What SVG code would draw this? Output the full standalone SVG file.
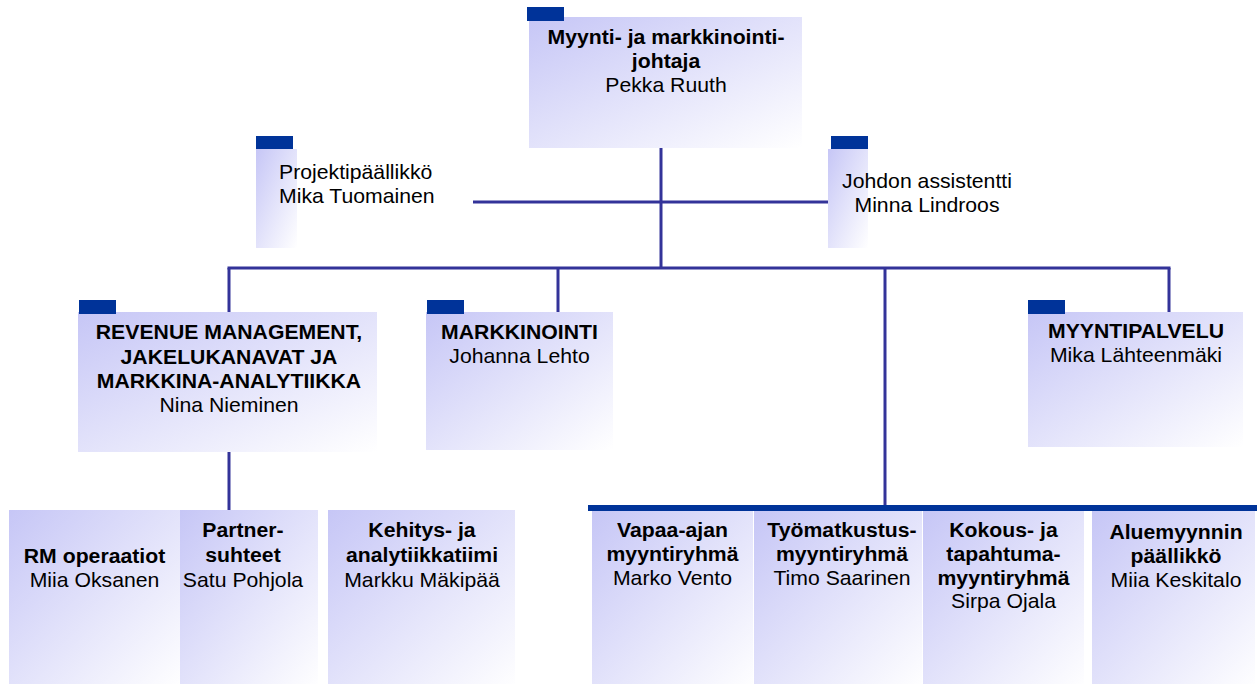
<svg xmlns="http://www.w3.org/2000/svg" width="1260" height="684" viewBox="0 0 1260 684">
<defs>
<linearGradient id="fill" x1="0" y1="0" x2="1" y2="1">
<stop offset="0" stop-color="#c6c6f6"/>
<stop offset="1" stop-color="#ffffff"/>
</linearGradient>
</defs>
<style>
.box{fill:url(#fill);}
.tab{fill:#003399;}
.ln{stroke:#333399;stroke-width:3;fill:none;}
text{font-family:"Liberation Sans",Arial,sans-serif;font-size:20.5px;fill:#000;text-anchor:middle;}
.b{font-weight:bold;}
.l{text-anchor:start;}
</style>
<rect width="1260" height="684" fill="#ffffff"/>
<g id="connectors">
<line class="ln" x1="661" y1="148" x2="661" y2="268"/>
<line class="ln" x1="473" y1="202" x2="830" y2="202"/>
<line class="ln" x1="227.5" y1="268" x2="1170.5" y2="268"/>
<line class="ln" x1="229" y1="268" x2="229" y2="312"/>
<line class="ln" x1="558" y1="268" x2="558" y2="312"/>
<line class="ln" x1="1169" y1="268" x2="1169" y2="312"/>
<line class="ln" x1="885" y1="268" x2="885" y2="506"/>
<line class="ln" x1="229" y1="452" x2="229" y2="511"/>
<rect x="588" y="505" width="669" height="6" fill="#003399"/>
</g>
<g id="n-top">
<rect class="box" x="529" y="17" width="273" height="131"/>
<rect class="tab" x="527" y="7" width="37" height="14"/>
<text transform="translate(666,0) scale(1.035,1)"><tspan class="b" x="0" y="44">Myynti- ja markkinointi-</tspan><tspan class="b" x="0" y="68">johtaja</tspan><tspan x="0" y="92">Pekka Ruuth</tspan></text>
</g>
<g id="n-proj">
<rect class="box" x="256" y="149" width="41" height="99"/>
<rect class="tab" x="256" y="136" width="37" height="13"/>
<text class="l" transform="translate(279,0) scale(1.035,1)"><tspan x="0" y="179">Projektipäällikkö</tspan><tspan x="0" y="203">Mika Tuomainen</tspan></text>
</g>
<g id="n-assist">
<rect class="box" x="828" y="149" width="40" height="99"/>
<rect class="tab" x="831" y="136" width="37" height="13"/>
<text transform="translate(927,0) scale(1.035,1)"><tspan x="0" y="188">Johdon assistentti</tspan><tspan x="0" y="212">Minna Lindroos</tspan></text>
</g>
<g id="n-revenue">
<rect class="box" x="78" y="312" width="299" height="140"/>
<rect class="tab" x="79" y="300" width="37" height="14"/>
<text transform="translate(229,0) scale(1.035,1)"><tspan class="b" x="0" y="339">REVENUE MANAGEMENT,</tspan><tspan class="b" x="0" y="364">JAKELUKANAVAT JA</tspan><tspan class="b" x="0" y="388">MARKKINA-ANALYTIIKKA</tspan><tspan x="0" y="412">Nina Nieminen</tspan></text>
</g>
<g id="n-markkinointi">
<rect class="box" x="426" y="312" width="187" height="138"/>
<rect class="tab" x="427" y="300" width="37" height="14"/>
<text transform="translate(519.5,0) scale(1.035,1)"><tspan class="b" x="0" y="339">MARKKINOINTI</tspan><tspan x="0" y="363">Johanna Lehto</tspan></text>
</g>
<g id="n-myyntipalvelu">
<rect class="box" x="1028" y="312" width="215" height="135"/>
<rect class="tab" x="1028" y="300" width="37" height="14"/>
<text transform="translate(1136,0) scale(1.035,1)"><tspan class="b" x="0" y="338">MYYNTIPALVELU</tspan><tspan x="0" y="362">Mika Lähteenmäki</tspan></text>
</g>
<g id="n-rm">
<rect class="box" x="9" y="510" width="171" height="180"/>
<text transform="translate(94.5,0) scale(1.035,1)"><tspan class="b" x="0" y="563">RM operaatiot</tspan><tspan x="0" y="587">Miia Oksanen</tspan></text>
</g>
<g id="n-partner">
<rect class="box" x="180" y="510" width="138" height="180"/>
<text transform="translate(243,0) scale(1.035,1)"><tspan class="b" x="0" y="537">Partner-</tspan><tspan class="b" x="0" y="562">suhteet</tspan><tspan x="0" y="587">Satu Pohjola</tspan></text>
</g>
<g id="n-kehitys">
<rect class="box" x="328" y="510" width="187" height="180"/>
<text transform="translate(422,0) scale(1.035,1)"><tspan class="b" x="0" y="537">Kehitys- ja</tspan><tspan class="b" x="0" y="562">analytiikkatiimi</tspan><tspan x="0" y="587">Markku Mäkipää</tspan></text>
</g>
<g id="n-vapaa">
<rect class="box" x="592" y="511" width="161" height="180"/>
<text transform="translate(672.5,0) scale(1.035,1)"><tspan class="b" x="0" y="537">Vapaa-ajan</tspan><tspan class="b" x="0" y="561">myyntiryhmä</tspan><tspan x="0" y="585">Marko Vento</tspan></text>
</g>
<g id="n-tyo">
<rect class="box" x="754" y="511" width="168" height="180"/>
<text transform="translate(842,0) scale(1.035,1)"><tspan class="b" x="0" y="537">Työmatkustus-</tspan><tspan class="b" x="0" y="561">myyntiryhmä</tspan><tspan x="0" y="585">Timo Saarinen</tspan></text>
</g>
<g id="n-kokous">
<rect class="box" x="923" y="511" width="161" height="180"/>
<text transform="translate(1003.5,0) scale(1.035,1)"><tspan class="b" x="0" y="537">Kokous- ja</tspan><tspan class="b" x="0" y="561">tapahtuma-</tspan><tspan class="b" x="0" y="585">myyntiryhmä</tspan><tspan x="0" y="608">Sirpa Ojala</tspan></text>
</g>
<g id="n-alue">
<rect class="box" x="1092" y="511" width="163" height="180"/>
<text transform="translate(1176,0) scale(1.035,1)"><tspan class="b" x="0" y="539">Aluemyynnin</tspan><tspan class="b" x="0" y="563">päällikkö</tspan><tspan x="0" y="587">Miia Keskitalo</tspan></text>
</g>
</svg>
